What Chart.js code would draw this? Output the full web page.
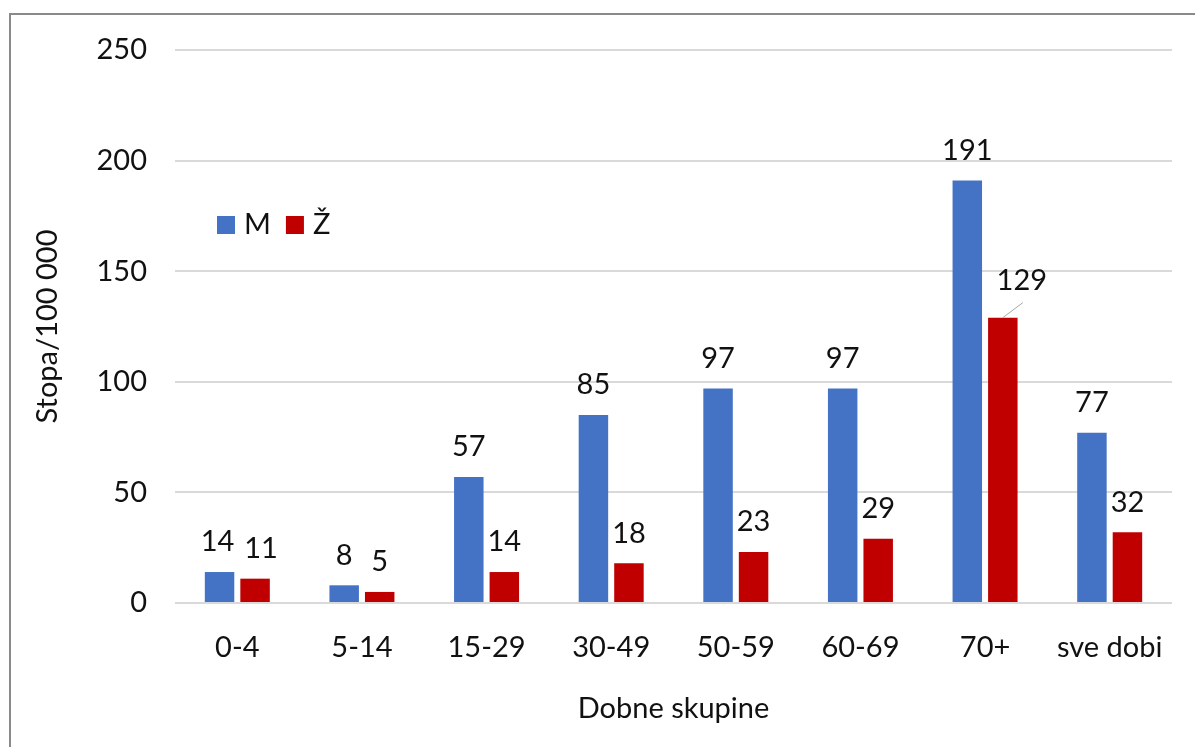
<!DOCTYPE html>
<html lang="hr">
<head>
  <meta charset="UTF-8">
  <title>Stopa po dobnim skupinama</title>
  <script src="https://cdn.jsdelivr.net/npm/chart.js"></script>
  <style>
    body { margin: 0; background: #fff; overflow: hidden; }
    #wrap { position: relative; width: 1195px; height: 747px; }
    #frame {
      position: absolute; left: 9px; top: 13px; width: 1300px; height: 800px;
      border-top: 2px solid #8a8a8a; border-left: 2px solid #8a8a8a;
    }
    canvas { position: absolute; left: 0; top: 0; }
  </style>
</head>
<body>
  <div id="wrap">
    <div id="frame"></div>
    <canvas id="chart"></canvas>
  </div>

  <script>
    const categories = ['0-4', '5-14', '15-29', '30-49', '50-59', '60-69', '70+', 'sve dobi'];
    const maleValues = [14, 8, 57, 85, 97, 97, 191, 77];
    const femaleValues = [11, 5, 14, 18, 23, 29, 129, 32];
    const yTicks = [0, 50, 100, 150, 200, 250];

    const FONT = 'Lato, sans-serif';
    const SIZE = 29;

    // labels above bars (one of them pulled aside with a leader line, as in the original)
    const valueLabels = {
      id: 'valueLabels',
      afterDatasetsDraw(chart) {
        const ctx = chart.ctx;
        ctx.save();
        ctx.font = SIZE + 'px ' + FONT;
        ctx.fillStyle = '#111';
        ctx.textAlign = 'center';
        ctx.textBaseline = 'middle';
        chart.data.datasets.forEach((ds, di) => {
          chart.getDatasetMeta(di).data.forEach((bar, i) => {
            let x = bar.x, y = bar.y - 30;
            if (di === 1 && i === 6) {
              x = bar.x + 19; y = bar.y - 37;
              ctx.strokeStyle = '#a6a6a6';
              ctx.lineWidth = 1;
              ctx.beginPath();
              ctx.moveTo(bar.x, bar.y);
              ctx.lineTo(bar.x + 20, bar.y - 15);
              ctx.stroke();
            } else if (i === 0) {
              // the two small labels of the first group are pushed apart a bit
              x += di === 0 ? -2 : 6;
            }
            ctx.fillText(ds.data[i], x, y);
          });
        });
        ctx.restore();
      }
    };

    // legend drawn inside the plot area, top left
    const innerLegend = {
      id: 'innerLegend',
      afterDraw(chart) {
        const ctx = chart.ctx;
        ctx.save();
        ctx.font = SIZE + 'px ' + FONT;
        ctx.textBaseline = 'middle';
        let x = 217;
        const y = 225;
        chart.data.datasets.forEach(ds => {
          ctx.fillStyle = ds.backgroundColor;
          ctx.fillRect(x, y - 9, 18, 18);
          x += 27;
          ctx.fillStyle = '#111';
          ctx.fillText(ds.label, x, y);
          x += ctx.measureText(ds.label).width + 15;
        });
        ctx.restore();
      }
    };

    new Chart(document.getElementById('chart'), {
      type: 'bar',
      data: {
        labels: categories,
        datasets: [
          { label: 'M', data: maleValues, backgroundColor: '#4472C4' },
          { label: 'Ž', data: femaleValues, backgroundColor: '#C00000' }
        ]
      },
      options: {
        responsive: true,
        maintainAspectRatio: false,
        animation: false,
        layout: { padding: { top: 50, right: 23, bottom: 0, left: 0 } },
        datasets: { bar: { categoryPercentage: 0.57, barPercentage: 0.83 } },
        plugins: {
          legend: { display: false },
          tooltip: { enabled: false }
        },
        scales: {
          x: {
            grid: { display: false, drawTicks: false },
            border: { display: false },
            ticks: { color: '#111', font: { family: FONT, size: SIZE }, padding: 27 },
            title: {
              display: true, text: 'Dobne skupine', color: '#111',
              font: { family: FONT, size: SIZE }, padding: { bottom: 21 }
            },
            afterFit(s) { s.height = 144; }
          },
          y: {
            min: 0, max: 250,
            afterBuildTicks(s) { s.ticks = yTicks.map(v => ({ value: v })); },
            grid: { color: '#d9d9d9', lineWidth: 2, drawTicks: false },
            border: { display: false },
            ticks: { color: '#111', font: { family: FONT, size: SIZE }, padding: 28 },
            title: {
              display: true, text: 'Stopa/100 000', color: '#111',
              font: { family: FONT, size: SIZE }, padding: { top: 30 }
            },
            afterFit(s) { s.width = 175; }
          }
        }
      },
      plugins: [valueLabels, innerLegend]
    });
  </script>
</body>
</html>
